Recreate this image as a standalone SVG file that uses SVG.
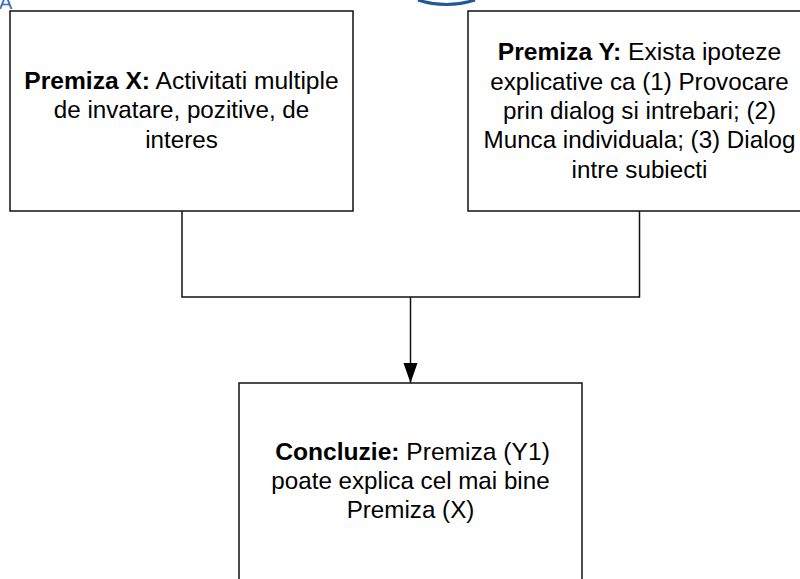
<svg xmlns="http://www.w3.org/2000/svg" width="800" height="579" viewBox="0 0 800 579">
<style>
text{font-family:"Liberation Sans",Arial,sans-serif;font-size:24.2px;fill:#000;text-anchor:middle}
tspan.b{font-weight:bold;font-size:24.6px}
tspan.r{font-size:24.6px}
.box{fill:#fff;stroke:#111;stroke-width:1.5}
.con{fill:none;stroke:#111;stroke-width:1.5}
</style>
<defs><marker id="arrow" markerUnits="userSpaceOnUse" markerWidth="21" markerHeight="16" refX="20" refY="7.500" orient="auto"><path d="M0 0.500L20 7.500L0 14.500Z" fill="#000"/></marker></defs>
<rect width="800" height="579" fill="#fff"/>
<text x="-1" y="9" style="fill:#3c6eb4;font-size:20px;text-anchor:start">A</text>
<path d="M418 0Q446 9 475 0" fill="none" stroke="#1d5a96" stroke-width="3"/>
<g id="connectors">
<path class="con" d="M182 211V297H639.500V211"/>
<path class="con" d="M410.500 297V383" marker-end="url(#arrow)"/>
</g>
<g id="premiza-x">
<rect class="box" x="10" y="11" width="343" height="200"/>
<text x="181.500" y="89"><tspan class="b">Premiza X:</tspan><tspan class="r"> Activitati multiple</tspan></text>
<text x="181.500" y="118">de invatare, pozitive, de</text>
<text x="181.500" y="148">interes</text>
</g>
<g id="premiza-y">
<rect class="box" x="468" y="11" width="343" height="200"/>
<text x="639.500" y="60"><tspan class="b">Premiza Y:</tspan><tspan class="r"> Exista ipoteze</tspan></text>
<text x="639.500" y="90">explicative ca (1) Provocare</text>
<text x="639.500" y="119">prin dialog si intrebari; (2)</text>
<text x="639.500" y="148">Munca individuala; (3) Dialog</text>
<text x="639.500" y="178">intre subiecti</text>
</g>
<g id="concluzie">
<rect class="box" x="239" y="383" width="343" height="210"/>
<text x="412.500" y="460"><tspan class="b">Concluzie:</tspan><tspan class="r"> Premiza (Y1)</tspan></text>
<text x="410.500" y="489">poate explica cel mai bine</text>
<text x="410.500" y="518">Premiza (X)</text>
</g>
</svg>
